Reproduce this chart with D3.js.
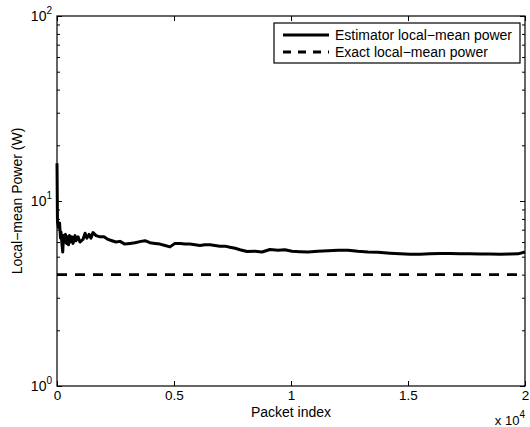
<!DOCTYPE html>
<html>
<head>
<meta charset="utf-8">
<script src="https://cdn.jsdelivr.net/npm/d3@7"></script>
<style>
  body { margin: 0; background: #fff; }
  svg { font-family: "Liberation Sans", Arial, sans-serif; }
  .axis path { display: none; }
  .axis line { stroke: #000; }
</style>
</head>
<body>
<div id="chart"></div>
<script>
var width = 530,
    height = 427,
    margin = {top: 16, right: 5, bottom: 41, left: 57};

// Estimator curve (packet index, power in W)
var packetIdx = [0, 20, 60, 110, 150, 170, 210, 245, 280, 320, 365, 405, 450, 490, 535, 575,
    640, 685, 770, 810, 900, 980, 1110, 1200, 1280, 1370, 1450, 1540, 1670, 1840, 2010,
    2180, 2350, 2520, 2690, 2900, 3120, 3330, 3590, 3760, 3970, 4190, 4400, 4620, 4830,
    5040, 5260, 5470, 5680, 5900, 6110, 6320, 6540, 6750, 6970, 7180, 7390, 7610, 7820,
    8120, 8460, 8760, 9100, 9440, 9740, 10040, 10380, 10730, 11150, 11580, 12010, 12440,
    12860, 13290, 13720, 14230, 14660, 15090, 15510, 15940, 16370, 16790, 17220, 17650,
    18080, 18500, 18930, 19360, 19700, 20000];
var estPower = [16, 7.8, 7.2, 7.6, 6.3, 6.8, 5.9, 5.3, 6.5, 6.0, 6.6, 5.9, 6.4, 5.8, 6.5, 6.0,
    6.4, 5.9, 6.5, 6.1, 6.4, 6.0, 6.2, 6.7, 6.3, 6.6, 6.3, 6.75, 6.5, 6.4, 6.4,
    6.2, 6.1, 6.0, 6.05, 5.85, 5.9, 5.95, 6.05, 6.1, 5.95, 5.9, 5.85, 5.75, 5.65,
    5.9, 5.9, 5.85, 5.85, 5.8, 5.75, 5.8, 5.8, 5.75, 5.7, 5.7, 5.62, 5.55, 5.45,
    5.33, 5.35, 5.3, 5.47, 5.42, 5.45, 5.35, 5.32, 5.3, 5.35, 5.38, 5.42, 5.42,
    5.35, 5.3, 5.28, 5.22, 5.18, 5.15, 5.15, 5.18, 5.2, 5.2, 5.19, 5.18,
    5.17, 5.17, 5.16, 5.17, 5.18, 5.3];

// Exact local-mean power
var exactIdx = [0, 20000];
var exactPower = [4, 4];

var xTicks = [0, 5000, 10000, 15000, 20000],
    xTickLabels = ['0', '0.5', '1', '1.5', '2'],
    yTicks = [1, 10, 100],
    yTickExp = ['0', '1', '2'],
    yMinor = [2, 3, 4, 5, 6, 7, 8, 9, 20, 30, 40, 50, 60, 70, 80, 90];

var legendLabels = ['Estimator local\u2212mean power', 'Exact local\u2212mean power'];

var svg = d3.select('#chart')
    .append('svg')
    .attr('width', width)
    .attr('height', height);

var w = width - margin.left - margin.right,
    h = height - margin.top - margin.bottom;

var graph = svg.append('g')
    .attr('transform', 'translate(' + margin.left + ',' + margin.top + ')');

var x = d3.scaleLinear().domain([0, 20000]).range([0, w]),
    y = d3.scaleLog().domain([1, 100]).range([h, 0]);

// Ticks point inward on all four sides, matlab style
graph.append('g')
    .attr('class', 'axis')
    .attr('transform', 'translate(0,' + h + ')')
    .call(d3.axisBottom(x).tickValues(xTicks).tickSize(-5).tickPadding(4).tickFormat(function(d, i) {
        return xTickLabels[i];
    }))
    .selectAll('text')
    .attr('font-size', 13.5)
    .attr('font-family', null)
    .attr('fill', '#000');

graph.append('g')
    .attr('class', 'axis')
    .call(d3.axisTop(x).tickValues(xTicks).tickSize(-5).tickFormat(''));

graph.append('g')
    .attr('class', 'axis')
    .call(d3.axisLeft(y).tickValues(yTicks).tickSize(-5).tickFormat(''));
graph.append('g')
    .attr('class', 'axis')
    .call(d3.axisLeft(y).tickValues(yMinor).tickSize(-3).tickFormat(''));
graph.append('g')
    .attr('class', 'axis')
    .attr('transform', 'translate(' + w + ',0)')
    .call(d3.axisRight(y).tickValues(yTicks).tickSize(-5).tickFormat(''));
graph.append('g')
    .attr('class', 'axis')
    .attr('transform', 'translate(' + w + ',0)')
    .call(d3.axisRight(y).tickValues(yMinor).tickSize(-3).tickFormat(''));

// y tick labels as 10^n
var yLab = graph.selectAll('.ylab')
    .data(yTicks)
    .enter()
    .append('text')
    .attr('class', 'ylab')
    .attr('x', -5)
    .attr('y', function(d) { return y(d) + 5; })
    .attr('text-anchor', 'end')
    .attr('font-size', 14);
yLab.append('tspan').text('10');
yLab.append('tspan')
    .attr('dy', -7)
    .attr('font-size', 10)
    .text(function(d, i) { return yTickExp[i]; });

// Lines
var line = d3.line()
    .x(function(d) { return x(d[0]); })
    .y(function(d) { return y(d[1]); });

var estData = packetIdx.map(function(d, i) { return [d, estPower[i]]; });
var exactData = exactIdx.map(function(d, i) { return [d, exactPower[i]]; });

graph.append('path')
    .datum(exactData)
    .attr('d', line)
    .attr('fill', 'none')
    .attr('stroke', '#000')
    .attr('stroke-width', 2.8)
    .attr('stroke-dasharray', '10,8');

graph.append('path')
    .datum(estData)
    .attr('d', line)
    .attr('fill', 'none')
    .attr('stroke', '#000')
    .attr('stroke-width', 3)
    .attr('stroke-linejoin', 'round');

// Box
graph.append('rect')
    .attr('width', w)
    .attr('height', h)
    .attr('fill', 'none')
    .attr('stroke', '#000')
    .attr('stroke-width', 1.2);

// Axis labels
graph.append('text')
    .attr('x', w / 2)
    .attr('y', h + 31)
    .attr('text-anchor', 'middle')
    .attr('font-size', 14)
    .text('Packet index');

var mult = graph.append('text')
    .attr('x', w)
    .attr('y', h + 39)
    .attr('text-anchor', 'end')
    .attr('font-size', 13);
mult.append('tspan').text('x 10');
mult.append('tspan').attr('dy', -7).attr('font-size', 10).text('4');

graph.append('text')
    .attr('transform', 'translate(-35,' + (h / 2) + ') rotate(-90)')
    .attr('text-anchor', 'middle')
    .attr('font-size', 14)
    .text('Local\u2212mean Power (W)');

// Legend
var legend = graph.append('g')
    .attr('transform', 'translate(' + (w - 251) + ',7)');
legend.append('rect')
    .attr('width', 246)
    .attr('height', 40)
    .attr('fill', '#fff')
    .attr('stroke', '#000')
    .attr('stroke-width', 1.2);
var item = legend.selectAll('.item')
    .data(legendLabels)
    .enter()
    .append('g')
    .attr('class', 'item')
    .attr('transform', function(d, i) { return 'translate(0,' + (12 + i * 17) + ')'; });
item.append('line')
    .attr('x1', 9).attr('x2', 55)
    .attr('stroke', '#000')
    .attr('stroke-width', 2.8)
    .attr('stroke-dasharray', function(d, i) { return i ? '8,7' : null; });
item.append('text')
    .attr('x', 61)
    .attr('y', 5)
    .attr('font-size', 14)
    .text(function(d) { return d; });
</script>
</body>
</html>
